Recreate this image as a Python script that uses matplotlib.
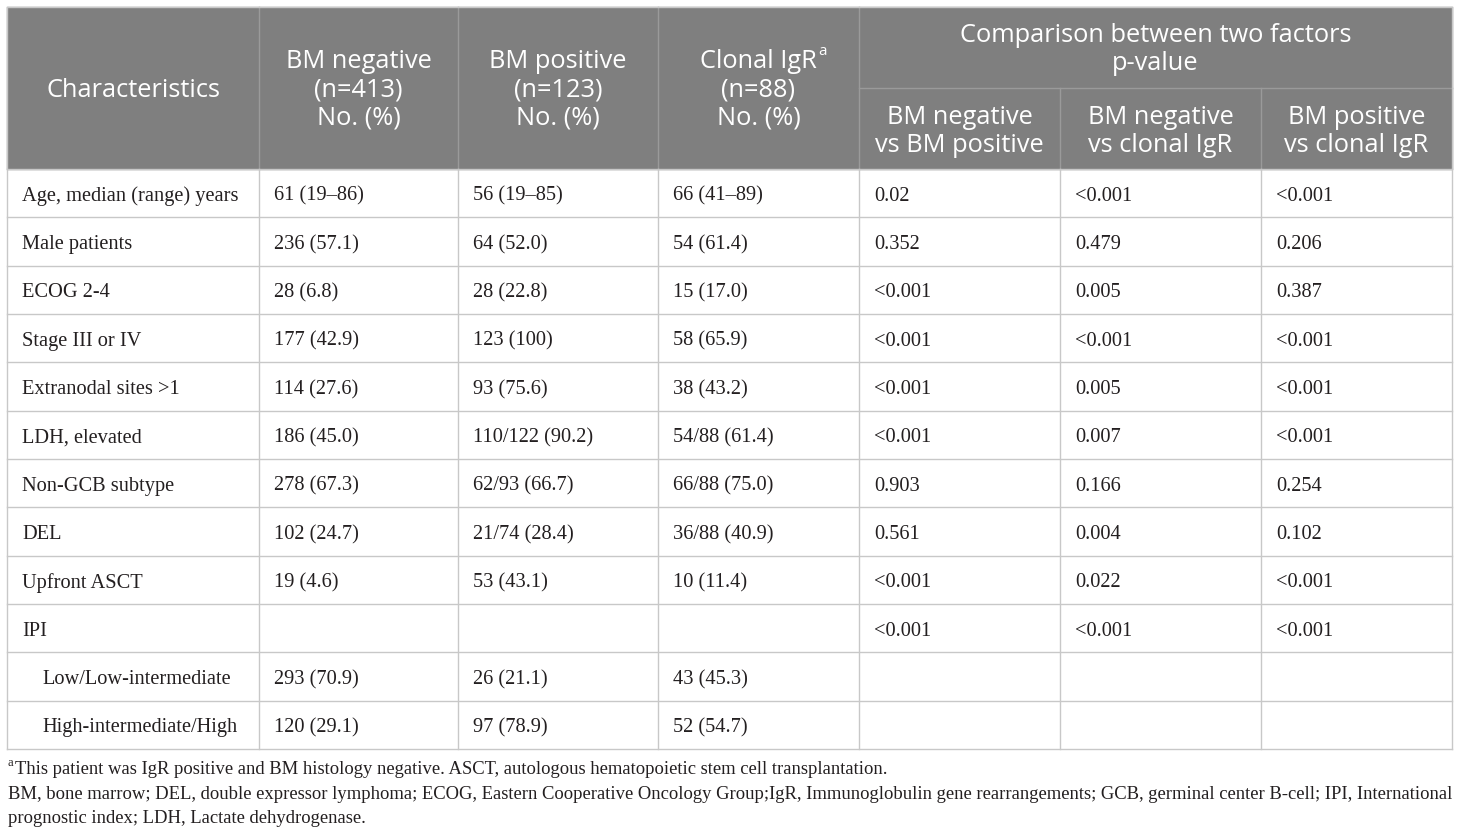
import matplotlib.pyplot as plt

# table contents
characteristics = ["Age, median (range) years", "Male patients", "ECOG 2-4", "Stage III or IV",
                   "Extranodal sites >1", "LDH, elevated", "Non-GCB subtype", "DEL",
                   "Upfront ASCT", "IPI", "Low/Low-intermediate", "High-intermediate/High"]
indented = [False] * 10 + [True, True]
bm_negative = ["61 (19\u201386)", "236 (57.1)", "28 (6.8)", "177 (42.9)", "114 (27.6)", "186 (45.0)",
               "278 (67.3)", "102 (24.7)", "19 (4.6)", "", "293 (70.9)", "120 (29.1)"]
bm_positive = ["56 (19\u201385)", "64 (52.0)", "28 (22.8)", "123 (100)", "93 (75.6)", "110/122 (90.2)",
               "62/93 (66.7)", "21/74 (28.4)", "53 (43.1)", "", "26 (21.1)", "97 (78.9)"]
clonal_igr = ["66 (41\u201389)", "54 (61.4)", "15 (17.0)", "58 (65.9)", "38 (43.2)", "54/88 (61.4)",
              "66/88 (75.0)", "36/88 (40.9)", "10 (11.4)", "", "43 (45.3)", "52 (54.7)"]
p_neg_pos = ["0.02", "0.352", "<0.001", "<0.001", "<0.001", "<0.001", "0.903", "0.561", "<0.001", "<0.001", "", ""]
p_neg_igr = ["<0.001", "0.479", "0.005", "<0.001", "0.005", "0.007", "0.166", "0.004", "0.022", "<0.001", "", ""]
p_pos_igr = ["<0.001", "0.206", "0.387", "<0.001", "<0.001", "<0.001", "0.254", "0.102", "<0.001", "<0.001", "", ""]

group_headers = ["BM negative\n(n=413)\nNo. (%)", "BM positive\n(n=123)\nNo. (%)", "Clonal IgR\n(n=88)\nNo. (%)"]
compare_header = "Comparison between two factors\np-value"
sub_headers = ["BM negative\nvs BM positive", "BM negative\nvs clonal IgR", "BM positive\nvs clonal IgR"]
footnotes = ["This patient was IgR positive and BM histology negative. ASCT, autologous hematopoietic stem cell transplantation.",
             "BM, bone marrow; DEL, double expressor lymphoma; ECOG, Eastern Cooperative Oncology Group;IgR, Immunoglobulin gene rearrangements; GCB, germinal center B-cell; IPI, International",
             "prognostic index; LDH, Lactate dehydrogenase."]

columns = [characteristics, bm_negative, bm_positive, clonal_igr, p_neg_pos, p_neg_igr, p_pos_igr]

# layout (pixels)
W, H = 1460, 837
col_x = [7, 259, 458, 658, 859, 1060, 1261, 1452]
top, head_mid, head_bot, bottom = 8, 89, 170, 750
row_h = (bottom - head_bot) / len(characteristics)
gray = "#7f7f7f"
line_c = "#c8c8c8"
head_font = "Open Sans"
body_font = "Liberation Serif"
head_size = 18.3
txt_c = "#231f20"

fig = plt.figure(figsize=(W / 100, H / 100), dpi=100)
ax = fig.add_axes([0, 0, 1, 1])
ax.set_xlim(0, W)
ax.set_ylim(H, 0)
ax.axis("off")

# header background
ax.add_patch(plt.Rectangle((col_x[0], top), col_x[-1] - col_x[0], head_bot - top, color=gray, zorder=0))
for x in col_x[1:-1]:
    y0 = head_mid if x in col_x[5:7] else top
    ax.plot([x, x], [y0, head_bot], color="#9a9a9a", lw=1)
ax.plot([col_x[4], col_x[-1]], [head_mid, head_mid], color="#9a9a9a", lw=1)

hkw = dict(color="white", fontsize=head_size, family=head_font, ha="center", va="center", linespacing=1.16)
ax.text((col_x[0] + col_x[1]) / 2, (top + head_bot) / 2 + 1, "Characteristics", **hkw)
for i, h in enumerate(group_headers):
    ax.text((col_x[i + 1] + col_x[i + 2]) / 2, (top + head_bot) / 2 + 1, h, **hkw)
ax.text((col_x[4] + col_x[-1]) / 2, (top + head_mid) / 2 + 1, compare_header, **hkw)
for i, h in enumerate(sub_headers):
    ax.text((col_x[i + 4] + col_x[i + 5]) / 2, (head_mid + head_bot) / 2 + 2, h, **hkw)

# superscript a after "Clonal IgR"
fig.canvas.draw()
r = fig.canvas.get_renderer()
t = ax.text(0, 0, "Clonal IgR", color="white", fontsize=head_size, family=head_font)
wpx = t.get_window_extent(r).width
t.remove()
ax.text((col_x[3] + col_x[4]) / 2 + wpx / 2 + 1, 51, "a", color="white", fontsize=11,
        family=head_font, ha="left", va="center")

# body grid
for i in range(len(characteristics) + 1):
    y = head_bot + i * row_h
    ax.plot([col_x[0], col_x[-1]], [y, y], color=line_c, lw=1)
for x in col_x:
    ax.plot([x, x], [head_bot, bottom], color=line_c, lw=1)
ax.plot([col_x[0], col_x[0]], [top, head_bot], color=line_c, lw=1)
ax.plot([col_x[-1], col_x[-1]], [top, head_bot], color=line_c, lw=1)
ax.plot([col_x[0], col_x[-1]], [top, top], color=line_c, lw=1)

for ci, col in enumerate(columns):
    for ri, val in enumerate(col):
        x = col_x[ci] + 15
        if ci == 0 and indented[ri]:
            x += 20
        y = head_bot + (ri + 0.5) * row_h + 2
        ax.text(x, y, val, fontsize=14.7, family=body_font, color=txt_c, ha="left", va="center")

# footnotes
ax.text(8, 763, "a", fontsize=9, family=body_font, color=txt_c, ha="left", va="center")
fy = [770, 795, 819]
for i, f in enumerate(footnotes):
    ax.text(15 if i == 0 else 8, fy[i], f, fontsize=13.4, family=body_font, color=txt_c,
            ha="left", va="center")

fig.savefig("out.png", dpi=100)
